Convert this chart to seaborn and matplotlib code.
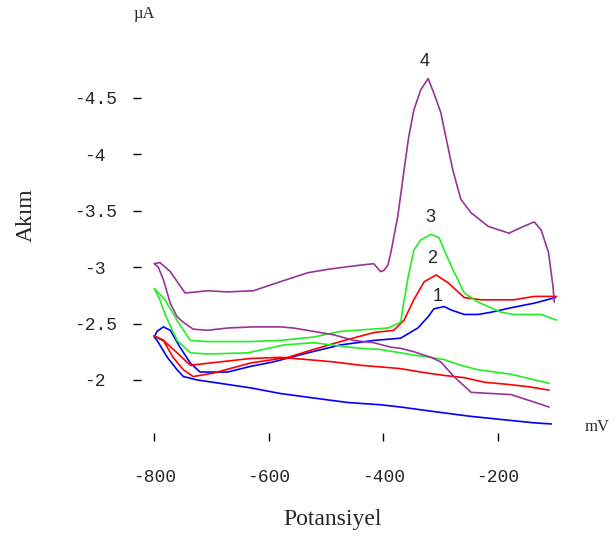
import numpy as np
import pandas as pd
import matplotlib
matplotlib.use("Agg")
import matplotlib.pyplot as plt
import seaborn as sns

# ---- data (potential in mV, current in µA) ----
# Each curve: reverse (return) branch from right to left, then forward branch from -800 to -100
blue_x = [-107, -137, -195, -252, -312, -370, -405, -462, -522, -580, -632, -685, -725, -749, -760, -777, -795,
          -800, -795, -784, -772, -755, -737, -720, -672, -632, -592, -532, -475, -417, -370, -340, -322, -312,
          -294, -282, -259, -235, -212, -177, -137, -100]
blue_y = [-1.61, -1.62, -1.65, -1.68, -1.72, -1.76, -1.78, -1.80, -1.84, -1.88, -1.93, -1.97, -2.00, -2.03, -2.09,
          -2.20, -2.35,
          -2.38, -2.43, -2.47, -2.44, -2.29, -2.15, -2.07, -2.07, -2.12, -2.16, -2.24, -2.31, -2.35, -2.37, -2.46,
          -2.56, -2.63, -2.65, -2.62, -2.58, -2.58, -2.60, -2.64, -2.68, -2.73]

red_x = [-111, -147, -182, -224, -259, -294, -335, -370, -392, -440, -487, -532, -580, -632, -685, -737, -760, -784,
         -800, -784, -767, -749, -732, -697, -632, -567, -522, -475, -417, -382, -364, -347, -329, -308, -287, -259,
         -230, -172, -137, -98]
red_y = [-1.91, -1.94, -1.96, -1.98, -2.02, -2.04, -2.07, -2.10, -2.11, -2.13, -2.16, -2.18, -2.20, -2.19, -2.16,
         -2.13, -2.24, -2.35,
         -2.39, -2.35, -2.20, -2.09, -2.03, -2.06, -2.15, -2.20, -2.27, -2.34, -2.42, -2.44, -2.53, -2.71, -2.87,
         -2.93, -2.86, -2.73, -2.71, -2.71, -2.74, -2.74]

green_x = [-111, -177, -235, -265, -294, -317, -347, -370, -405, -440, -475, -522, -574, -637, -707, -737, -760, -781,
           -790,
           -800, -781, -758, -737, -707, -632, -580, -522, -475, -392, -370, -366, -357, -347, -335, -317, -303, -294,
           -279, -259, -235, -195, -172, -125, -98]
green_y = [-1.97, -2.05, -2.09, -2.13, -2.18, -2.20, -2.22, -2.24, -2.27, -2.28, -2.30, -2.33, -2.31, -2.24, -2.23,
           -2.24, -2.35, -2.58, -2.71,
           -2.81, -2.71, -2.51, -2.35, -2.34, -2.34, -2.35, -2.38, -2.43, -2.46, -2.51, -2.64, -2.91, -3.15, -3.24,
           -3.29, -3.26, -3.15, -2.98, -2.77, -2.69, -2.60, -2.58, -2.58, -2.53]

purple_x = [-111, -147, -177, -212, -247, -277, -300, -317, -347, -370, -387, -417, -452, -487, -522, -557, -580,
            -627, -672, -707, -732, -749, -760, -772, -784, -793,
            -800, -790, -772, -746, -707, -672, -627, -580, -532, -497, -452, -417, -405, -399, -392, -387, -375,
            -364, -356, -347, -335, -322, -312, -300, -291, -279, -265, -247, -217, -181, -160, -137, -125, -112,
            -104, -102]
purple_y = [-1.76, -1.82, -1.87, -1.88, -1.89, -2.03, -2.16, -2.20, -2.25, -2.28, -2.29, -2.33, -2.35, -2.40, -2.43,
            -2.46, -2.47, -2.47, -2.46, -2.44, -2.45, -2.51, -2.56, -2.68, -2.89, -3.00,
            -3.03, -3.04, -2.96, -2.77, -2.79, -2.78, -2.79, -2.87, -2.95, -2.98, -3.01, -3.03, -2.96, -2.97, -3.02,
            -3.13, -3.45, -3.86, -4.15, -4.39, -4.57, -4.67, -4.54, -4.37, -4.15, -3.86, -3.60, -3.48, -3.36, -3.30,
            -3.35, -3.40, -3.33, -3.13, -2.82, -2.69]

curve_names = ["1", "2", "3", "4"]
curve_colors = ["#0000ff", "#ff0000", "#22ee22", "#993399"]
label_x = [-305, -315, -319, -328]
label_y = [-2.74, -3.08, -3.44, -4.82]

x_ticks = [-800, -600, -400, -200]
y_ticks = [-4.5, -4, -3.5, -3, -2.5, -2]
y_tick_labels = ["-4.5", "-4", "-3.5", "-3", "-2.5", "-2"]

frames = []
for name, xs, ys in zip(curve_names, [blue_x, red_x, green_x, purple_x], [blue_y, red_y, green_y, purple_y]):
    frames.append(pd.DataFrame({"E": xs, "I": ys, "curve": name, "order": np.arange(len(xs))}))
df = pd.concat(frames, ignore_index=True)

sns.set_theme(style="white")
fig = plt.figure(figsize=(6.16, 5.42), dpi=100)
ax_left, ax_right, ax_top, ax_bottom = 141, 568, 30, 433
ax = fig.add_axes([ax_left / 616, 1 - ax_bottom / 542, (ax_right - ax_left) / 616, (ax_bottom - ax_top) / 542])

sns.lineplot(data=df, x="E", y="I", hue="curve", units="curve", estimator=None, sort=False,
             palette=dict(zip(curve_names, curve_colors)), linewidth=1.2, legend=False, ax=ax)

ax.set_xlim(-823, -78)
ax.set_ylim(-1.53, -5.10)

for s in ax.spines.values():
    s.set_visible(False)

mono = "Liberation Mono"
ax.set_xticks(x_ticks)
ax.set_xticklabels([str(v) for v in x_ticks], family=mono, fontsize=13)
ax.set_yticks(y_ticks)
ax.set_yticklabels(y_tick_labels, family=mono, fontsize=13, ha="center")
ax.tick_params(axis="x", direction="out", length=6, width=1, color="black", pad=20, bottom=True)
ax.tick_params(axis="y", direction="out", length=6, width=1, color="black", pad=27, left=True)
ax.set_xlabel("Potansiyel", family="Liberation Serif", fontsize=17)
ax.set_ylabel("Akım", family="Liberation Serif", fontsize=17)
W, H = ax_right - ax_left, ax_bottom - ax_top
ax.xaxis.set_label_coords((333 - ax_left) / W, (ax_bottom - 519) / H)
ax.yaxis.set_label_coords((26 - ax_left) / W, (ax_bottom - 215) / H)
ax.xaxis.label.set_va("center")
ax.yaxis.label.set_va("center")
ax.grid(False)

for name, lx, ly in zip(curve_names, label_x, label_y):
    ax.text(lx, ly, name, ha="center", va="center", family="Liberation Sans", fontsize=13)

fig.text(144 / 616, 1 - 14 / 542, "µA", family="Liberation Serif", fontsize=12, ha="center", va="center")
fig.text(597 / 616, 1 - 427 / 542, "mV", family="Liberation Serif", fontsize=12, ha="center", va="center")

fig.savefig("out.png", dpi=100)
